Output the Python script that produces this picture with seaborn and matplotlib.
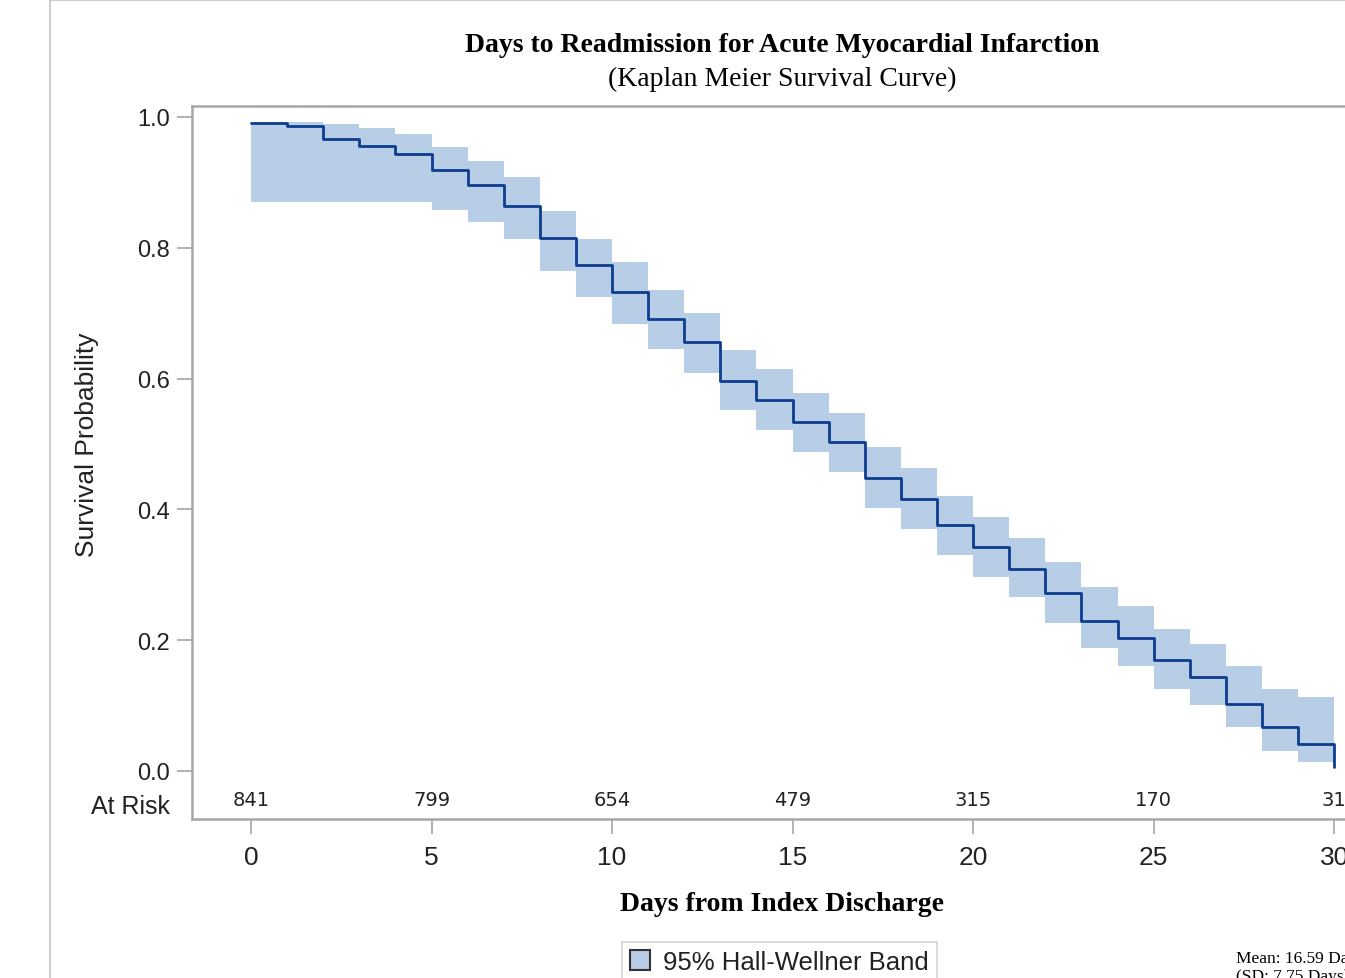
import matplotlib
matplotlib.use("Agg")
import matplotlib.pyplot as plt
import seaborn as sns
import pandas as pd
from matplotlib.patches import Patch, Rectangle

# ---------------- data ----------------
days = list(range(0, 31))
survival = [0.991, 0.986, 0.966, 0.956, 0.943, 0.919, 0.896, 0.864, 0.815, 0.774,
            0.733, 0.691, 0.656, 0.596, 0.567, 0.533, 0.503, 0.448, 0.416, 0.376,
            0.343, 0.309, 0.272, 0.229, 0.204, 0.170, 0.144, 0.102, 0.068, 0.041,
            0.006]
band_upper = [0.992, 0.992, 0.989, 0.983, 0.974, 0.954, 0.933, 0.908, 0.856, 0.813,
              0.778, 0.736, 0.700, 0.643, 0.614, 0.578, 0.548, 0.496, 0.464, 0.421,
              0.388, 0.357, 0.320, 0.282, 0.253, 0.217, 0.194, 0.160, 0.126, 0.113,
              0.113]
band_lower = [0.870, 0.870, 0.870, 0.870, 0.870, 0.858, 0.839, 0.813, 0.765, 0.724,
              0.683, 0.645, 0.609, 0.552, 0.522, 0.487, 0.457, 0.402, 0.370, 0.330,
              0.296, 0.266, 0.227, 0.188, 0.161, 0.126, 0.101, 0.067, 0.031, 0.013,
              0.013]
risk_days = [0, 5, 10, 15, 20, 25, 30]
at_risk = [841, 799, 654, 479, 315, 170, 31]
y_ticks = [0.0, 0.2, 0.4, 0.6, 0.8, 1.0]
y_tick_labels = ["0.0", "0.2", "0.4", "0.6", "0.8", "1.0"]

title = "Days to Readmission for Acute Myocardial Infarction"
subtitle = "(Kaplan Meier Survival Curve)"
xlabel = "Days from Index Discharge"
ylabel = "Survival Probability"
legend_label = "95% Hall-Wellner Band"
mean_text = "Mean: 16.59 Days"
sd_text = "(SD: 7.75 Days)"

df = pd.DataFrame({"day": days, "surv": survival})

# ---------------- style ----------------
sns.set_theme(style="white")
plt.rcParams["font.family"] = ["Liberation Sans", "DejaVu Sans"]

band_color = "#b8cde6"
line_color = "#0d3d8e"
axis_gray = "#a6a6a6"
text_col = "#222222"
W, H = 1345, 979

fig = plt.figure(figsize=(W / 100, H / 100), dpi=100)
fig.patch.set_facecolor("white")

# outer frame (partially visible)
fig.add_artist(Rectangle((50 / W, -0.1), 1.2, 1.1 - 1 / H, transform=fig.transFigure,
                         fill=False, edgecolor="#cfcfcf", linewidth=1.5))

ax_l, ax_r, ax_t, ax_b = 192, 1393, 107, 820
ax = fig.add_axes([ax_l / W, 1 - ax_b / H, (ax_r - ax_l) / W, (ax_b - ax_t) / H])

ax.fill_between(days, band_lower, band_upper, step="post", color=band_color,
                linewidth=0, zorder=1)
sns.lineplot(data=df, x="day", y="surv", drawstyle="steps-post", color=line_color,
             linewidth=2.0, ax=ax, zorder=3, estimator=None)

ymin, ymax = -0.0734, 1.0168
ax.set_xlim(-1.634, 31.63)
ax.set_ylim(ymin, ymax)

ax.set_yticks(y_ticks)
ax.set_yticklabels(y_tick_labels)
ax.set_xticks(risk_days)
ax.set_xticklabels([str(d) for d in risk_days])
ax.tick_params(axis="both", direction="out", length=11, width=1.2, color=axis_gray,
               labelcolor=text_col, bottom=True, left=True)
ax.tick_params(axis="y", labelsize=17, pad=5)
ax.tick_params(axis="x", labelsize=19, pad=8)

for s in ["left", "bottom", "top", "right"]:
    ax.spines[s].set_color(axis_gray)
    ax.spines[s].set_linewidth(1.8)

ax.set_xlabel("")
ax.set_ylabel(ylabel, fontsize=19, color=text_col, labelpad=0)
ax.yaxis.set_label_coords(-0.0775, (0.5 - ymin) / (ymax - ymin))

# at-risk row
for d, n in zip(risk_days, at_risk):
    ax.text(d, -0.044, str(n), ha="center", va="center", fontsize=14,
            family=["DejaVu Sans"], color=text_col, clip_on=False)
ax.text(-0.018, -0.053, "At Risk", transform=ax.get_yaxis_transform(), ha="right",
        va="center", fontsize=18, color=text_col)

serif = ["Liberation Serif", "DejaVu Serif"]
fig.text(782 / W, 1 - 46 / H, title, ha="center", va="center", fontsize=20,
         fontweight="bold", family=serif, color="black")
fig.text(782 / W, 1 - 79 / H, subtitle, ha="center", va="center", fontsize=20,
         family=serif, color="black")
fig.text(782 / W, 1 - 905 / H, xlabel, ha="center", va="center", fontsize=20,
         fontweight="bold", family=serif, color="black")

handle = Patch(facecolor=band_color, edgecolor="#333333", linewidth=1.5)
leg = fig.legend([handle], [legend_label], loc="upper left",
                 bbox_to_anchor=(622 / W, 1 - 943 / H), fontsize=18.5,
                 frameon=True, fancybox=False, handlelength=0.8, handleheight=0.8,
                 handletextpad=0.5, borderpad=0.3, borderaxespad=0)
leg.get_frame().set_edgecolor("#c8c8c8")
leg.get_frame().set_linewidth(1.2)
for t in leg.get_texts():
    t.set_color(text_col)

fig.text(1236 / W, 1 - 959 / H, mean_text, ha="left", va="center", fontsize=12.5,
         family=serif, color="black")
fig.text(1236 / W, 1 - 977 / H, sd_text, ha="left", va="center", fontsize=12.5,
         family=serif, color="black")

fig.savefig("out.png", dpi=100, facecolor="white")
